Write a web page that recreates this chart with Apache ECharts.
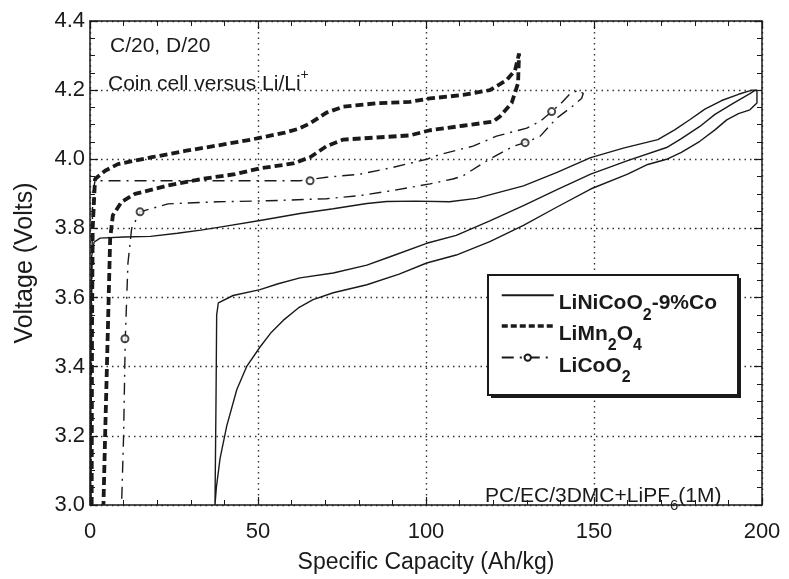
<!DOCTYPE html>
<html>
<head>
<meta charset="utf-8">
<title>Specific capacity vs voltage</title>
<script src="https://cdn.jsdelivr.net/npm/echarts@6/dist/echarts.min.js"></script>
<style>
  html, body { margin: 0; padding: 0; background: #fff; }
  #chart { width: 789px; height: 579px; }
</style>
</head>
<body>
<div id="chart"></div>
<script>
  // axis ranges / ticks (Ah/kg, Volts)
  const xTicks = [0, 50, 100, 150, 200]
  const yTicks = [3.0, 3.2, 3.4, 3.6, 3.8, 4.0, 4.2, 4.4]

  const seriesNames = ['LiNiCoO2-9%Co', 'LiMn2O4', 'LiCoO2']

  // LiNiCoO2-9%Co : first charge, discharge, second charge
  const niCoCharge1 = [
    [0.2, 3.0], [0.3, 3.5], [0.5, 3.72], [1.2, 3.76], [3, 3.772], [10, 3.775], [18, 3.777],
    [26, 3.786], [33, 3.795], [40, 3.806], [50.6, 3.823], [62.5, 3.843], [72.4, 3.857],
    [82.4, 3.872], [88.3, 3.878], [97, 3.879], [107, 3.877], [115, 3.887], [122, 3.905],
    [129, 3.923], [139, 3.962], [149, 4.005], [159, 4.033], [169, 4.057], [174, 4.085],
    [178.6, 4.115], [183, 4.145], [188, 4.17], [193, 4.188], [197, 4.2]
  ]
  const niCoDischarge = [
    [198.5, 4.2], [198.5, 4.163], [196.4, 4.143], [193, 4.132], [189.5, 4.114], [186, 4.085],
    [181.5, 4.052], [176, 4.02], [171.6, 4.0], [166, 3.985], [160, 3.957], [149, 3.914],
    [139, 3.862], [129, 3.809], [119, 3.762], [109, 3.723], [100.2, 3.70], [92, 3.668],
    [82.4, 3.637], [72.4, 3.614], [66.4, 3.594], [62, 3.57], [57.5, 3.534], [54, 3.50],
    [50.6, 3.457], [46.6, 3.40], [43.7, 3.334], [40.7, 3.229], [38.7, 3.134], [37.6, 3.05],
    [37.2, 3.0]
  ]
  const niCoCharge2 = [
    [37.4, 3.0], [37.5, 3.3], [37.7, 3.55], [38.2, 3.585], [42.6, 3.606], [50.6, 3.623],
    [56, 3.64], [62.5, 3.657], [72.4, 3.671], [82.4, 3.694], [89.3, 3.718], [100.2, 3.757],
    [109, 3.78], [119, 3.822], [129, 3.866], [139, 3.912], [149, 3.957], [160, 3.996],
    [171.6, 4.034], [176, 4.06], [181.5, 4.095], [186, 4.13], [191.4, 4.162], [196.4, 4.19],
    [198, 4.2]
  ]

  // LiMn2O4 : charge, discharge
  const mnCharge = [
    [0.5, 3.0], [0.6, 3.5], [0.8, 3.8], [1.5, 3.943], [4.5, 3.967], [8.3, 3.986], [18.4, 4.006],
    [28.3, 4.024], [38, 4.04], [48, 4.057], [58, 4.077], [62, 4.088], [65.5, 4.104],
    [70.4, 4.135], [75.4, 4.152], [85.3, 4.162], [95.2, 4.166], [101.2, 4.176], [111, 4.186],
    [119, 4.2], [124, 4.229], [126.5, 4.257], [127.7, 4.306]
  ]
  const mnDischarge = [
    [127.7, 4.306], [127.4, 4.22], [125.5, 4.163], [122, 4.124], [120, 4.109], [111, 4.097],
    [101.2, 4.084], [95.2, 4.069], [85.3, 4.063], [75.4, 4.057], [70.4, 4.038], [65.5, 4.006],
    [60.5, 3.988], [55, 3.98], [50.6, 3.974], [43.2, 3.957], [33.2, 3.943], [23.2, 3.924],
    [13.4, 3.9], [9.4, 3.877], [6.8, 3.838], [6, 3.771], [5.3, 3.5], [4.5, 3.2], [4, 3.0]
  ]

  // LiCoO2 : charge, discharge, open markers
  const coCharge = [
    [0.3, 3.0], [0.5, 3.6], [0.8, 3.9], [1.5, 3.938], [20, 3.938], [40, 3.938], [62.5, 3.938],
    [70.4, 3.948], [80.4, 3.957], [90.3, 3.977], [100.2, 4.0], [104.2, 4.014], [114, 4.038],
    [121, 4.067], [130, 4.09], [134, 4.11], [137.4, 4.138], [140.5, 4.165], [142.9, 4.19],
    [145.5, 4.2]
  ]
  const coDischarge = [
    [146.8, 4.19], [146.3, 4.176], [142.9, 4.148], [138.9, 4.119], [134, 4.067], [129.5, 4.048],
    [126, 4.038], [118, 3.995], [111, 3.952], [108, 3.943], [101.2, 3.929], [90.3, 3.91],
    [80.4, 3.895], [70.4, 3.886], [53, 3.88], [38, 3.877], [23.2, 3.871], [14.9, 3.848],
    [12.4, 3.8], [11.3, 3.7], [10.5, 3.481], [10, 3.2], [9.4, 3.0]
  ]
  const coMarkers = [[65.5, 3.938], [137.4, 4.138], [129.5, 4.048], [14.9, 3.848], [10.4, 3.481]]

  const legendText = {
    'LiNiCoO2-9%Co': '{n|LiNiCoO}{s|2}{n|-9%Co}',
    'LiMn2O4': '{n|LiMn}{s|2}{n|O}{s|4}',
    'LiCoO2': '{n|LiCoO}{s|2}'
  }

  const ink = '#1a1a1a'
  const font = 'Liberation Sans'

  const frameAxis = (position) => ({
    type: 'value',
    position,
    axisLine: { show: true, onZero: false, lineStyle: { color: ink, width: 1.5 } },
    axisTick: { inside: true, length: 8, lineStyle: { color: ink, width: 1.2 } },
    minorTick: { show: true, length: 5, lineStyle: { color: ink, width: 1 } },
    splitLine: { show: false },
    axisLabel: { show: false }
  })

  const gridDots = { show: true, lineStyle: { color: '#333', width: 1.4, type: [1.5, 4] } }

  const chart = echarts.init(document.getElementById('chart'))

  const option = {
    animation: false,
    backgroundColor: '#fff',
    grid: { left: 90, right: 27, top: 21, bottom: 69 },
    xAxis: [
      {
        ...frameAxis('bottom'),
        min: xTicks[0],
        max: xTicks[xTicks.length - 1],
        interval: xTicks[1] - xTicks[0],
        minorTick: { show: true, splitNumber: 5, length: 5, lineStyle: { color: ink, width: 1 } },
        splitLine: gridDots,
        axisLabel: { show: true, color: ink, fontSize: 22, fontFamily: font, margin: 16 },
        name: 'Specific Capacity (Ah/kg)',
        nameLocation: 'middle',
        nameGap: 46,
        nameTextStyle: { color: ink, fontSize: 23, fontFamily: font }
      },
      {
        ...frameAxis('top'),
        min: xTicks[0],
        max: xTicks[xTicks.length - 1],
        interval: xTicks[1] - xTicks[0],
        minorTick: { show: true, splitNumber: 5, length: 5, lineStyle: { color: ink, width: 1 } }
      }
    ],
    yAxis: [
      {
        ...frameAxis('left'),
        min: yTicks[0],
        max: yTicks[yTicks.length - 1],
        interval: 0.2,
        minorTick: { show: true, splitNumber: 4, length: 5, lineStyle: { color: ink, width: 1 } },
        splitLine: gridDots,
        axisLabel: {
          show: true, color: ink, fontSize: 22, fontFamily: font, margin: 5,
          formatter: (v) => v.toFixed(1)
        },
        name: 'Voltage (Volts)',
        nameLocation: 'middle',
        nameGap: 52,
        nameTextStyle: { color: ink, fontSize: 25, fontFamily: font }
      },
      {
        ...frameAxis('right'),
        min: yTicks[0],
        max: yTicks[yTicks.length - 1],
        interval: 0.2,
        minorTick: { show: true, splitNumber: 4, length: 5, lineStyle: { color: ink, width: 1 } }
      }
    ],
    legend: {
      data: [
        { name: seriesNames[0], itemStyle: { opacity: 0 } },
        { name: seriesNames[1], itemStyle: { opacity: 0 }, lineStyle: { width: 3.5, type: [6, 3] } },
        { name: seriesNames[2] }
      ],
      orient: 'vertical',
      left: 500,
      top: 292,
      padding: 0,
      itemWidth: 52,
      itemHeight: 8,
      itemGap: -0.5,
      selectedMode: false,
      z: 6,
      formatter: (name) => legendText[name],
      textStyle: {
        padding: [18, 0, 0, 0],
        rich: {
          n: { fontSize: 21, fontWeight: 'bold', fontFamily: font, color: ink, lineHeight: 22, verticalAlign: 'top' },
          s: { fontSize: 16, fontWeight: 'bold', fontFamily: font, color: ink, lineHeight: 16, padding: [14, 0, 0, 0], verticalAlign: 'top' }
        }
      }
    },
    graphic: [
      // legend frame with heavy bottom/right edge
      { type: 'rect', z: 3, silent: true, shape: { x: 491, y: 278, width: 250, height: 120 }, style: { fill: ink } },
      { type: 'rect', z: 4, silent: true, shape: { x: 488, y: 275, width: 250, height: 120 }, style: { fill: '#fff', stroke: ink, lineWidth: 2 } },
      {
        type: 'text', z: 5, x: 110, y: 46,
        style: { text: 'C/20, D/20', font: '21px "Liberation Sans"', fill: ink, verticalAlign: 'middle' }
      },
      {
        type: 'text', z: 5, x: 108, y: 79,
        style: {
          text: '{n|Coin cell versus Li/Li}{p|+}', fill: ink, verticalAlign: 'middle',
          rich: {
            n: { fontSize: 21, fontFamily: font, color: ink, lineHeight: 22, padding: [6, 0, 0, 0], verticalAlign: 'top' },
            p: { fontSize: 14, fontFamily: font, color: ink, lineHeight: 14, verticalAlign: 'top' }
          }
        }
      },
      {
        type: 'text', z: 5, x: 485, y: 497,
        style: {
          text: '{n|PC/EC/3DMC+LiPF}{s|6}{n|(1M)}', fill: ink, verticalAlign: 'middle',
          rich: {
            n: { fontSize: 21, fontFamily: font, color: ink, lineHeight: 22, verticalAlign: 'top' },
            s: { fontSize: 15, fontFamily: font, color: ink, lineHeight: 15, padding: [12, 0, 0, 0], verticalAlign: 'top' }
          }
        }
      }
    ],
    series: [
      {
        name: seriesNames[0],
        type: 'line',
        data: niCoCharge1.concat(niCoDischarge, niCoCharge2),
        symbol: 'none',
        silent: true,
        lineStyle: { color: ink, width: 1.4 },
        itemStyle: { color: ink }
      },
      {
        name: seriesNames[1],
        type: 'line',
        data: mnCharge.concat(mnDischarge),
        symbol: 'none',
        silent: true,
        lineStyle: { color: ink, width: 3.8, type: [8, 4] },
        itemStyle: { color: ink }
      },
      {
        name: seriesNames[2],
        type: 'line',
        data: coCharge.concat(coDischarge),
        symbol: 'emptyCircle',
        showSymbol: false,
        silent: true,
        lineStyle: { color: ink, width: 1.4, type: [12, 6, 2, 6] },
        itemStyle: { color: ink }
      },
      {
        name: seriesNames[2],
        type: 'scatter',
        data: coMarkers,
        symbol: 'emptyCircle',
        symbolSize: 7,
        silent: true,
        itemStyle: { color: ink, borderWidth: 1.2 },
        z: 3
      }
    ]
  }

  chart.setOption(option)
</script>
</body>
</html>
